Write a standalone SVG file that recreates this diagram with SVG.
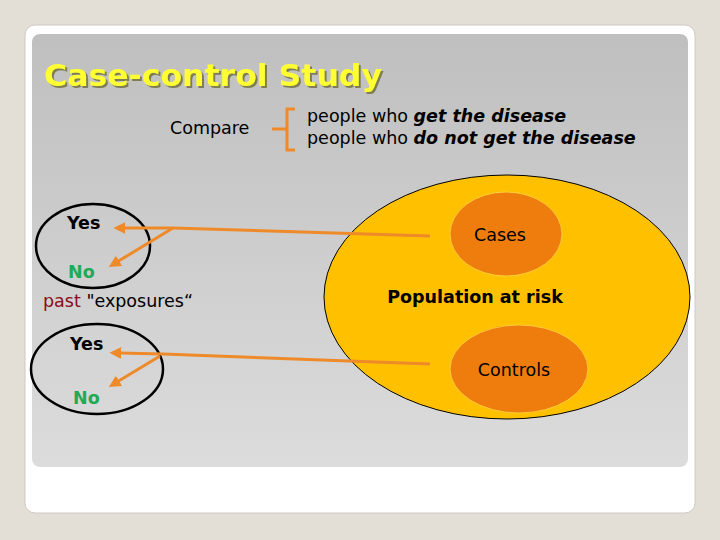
<svg xmlns="http://www.w3.org/2000/svg" width="720" height="540" viewBox="0 0 720 540">
<defs>
<linearGradient id="panel" x1="0" y1="0" x2="0" y2="1">
<stop offset="0" stop-color="#bfbfbf"/>
<stop offset="1" stop-color="#dcdcdc"/>
</linearGradient>
<filter id="sh" x="-5%" y="-20%" width="115%" height="150%">
<feDropShadow dx="2" dy="2" stdDeviation="0.6" flood-color="#77744a" flood-opacity="0.9"/>
</filter>
<marker id="ah" viewBox="0 0 10 10" refX="2" refY="5" markerWidth="4" markerHeight="4" orient="auto-start-reverse">
<path d="M0,0 L10,5 L0,10 z" fill="#ef8a2a"/>
</marker>
<style>
.t{font-family:"DejaVu Sans",Verdana,sans-serif;font-size:17.5px;fill:#000}
.b{font-weight:bold}
.g{fill:#1faa55}
.ln{stroke:#ef8a2a;stroke-width:3;fill:none}
.ring{fill:none;stroke:#000;stroke-width:2.5}
</style>
</defs>
<rect width="720" height="540" fill="#e4dfd6"/>
<rect x="25" y="25" width="670" height="488" rx="10" fill="#fff" stroke="#cfcac2"/>
<rect x="32" y="34" width="656" height="433" rx="8" fill="url(#panel)"/>
<g id="title">
<text x="44" y="86" class="t b" style="font-size:30px;fill:#ffff33" filter="url(#sh)" textLength="338" lengthAdjust="spacingAndGlyphs">Case-control Study</text>
</g>
<g id="compare">
<text x="170" y="134" class="t">Compare</text>
<path class="ln" d="M295,109 H287 V150 H295 M287,129 H272"/>
<text x="307" y="122" class="t">people who <tspan class="b" font-style="italic">get the disease</tspan></text>
<text x="307" y="144" class="t">people who <tspan class="b" font-style="italic">do not get the disease</tspan></text>
</g>
<g id="exposure-top">
<ellipse class="ring" cx="93" cy="246" rx="57" ry="42"/>
<text x="67" y="229" class="t b">Yes</text>
<text x="68" y="278" class="t b g">No</text>
</g>
<text id="past" x="43" y="307" class="t">
<tspan fill="#8b0a1a">past</tspan> "exposures“</text>
<g id="exposure-bottom">
<ellipse class="ring" cx="97" cy="369" rx="66" ry="45"/>
<text x="70" y="350" class="t b">Yes</text>
<text x="73" y="404" class="t b g">No</text>
</g>
<g id="population">
<ellipse cx="507" cy="297" rx="183" ry="122" fill="#ffc000" stroke="#000" stroke-width="1"/>
<text x="475" y="303" class="t b" text-anchor="middle">Population at risk</text>
</g>
<g id="cases">
<ellipse cx="506" cy="234" rx="56" ry="42" fill="#ee7d0e" stroke="#ffd84a" stroke-width="0.8"/>
<text x="500" y="241" class="t" text-anchor="middle">Cases</text>
</g>
<g id="controls">
<ellipse cx="519" cy="369" rx="69" ry="44" fill="#ee7d0e" stroke="#ffd84a" stroke-width="0.8"/>
<text x="514" y="376" class="t" text-anchor="middle">Controls</text>
</g>
<g id="connectors">
<path class="ln" d="M430,236 L173,228 L123,228" marker-end="url(#ah)"/>
<path class="ln" d="M173,228 L117,262" marker-end="url(#ah)"/>
<path class="ln" d="M430,364 L163,354 L119,353" marker-end="url(#ah)"/>
<path class="ln" d="M160,356 L117,382" marker-end="url(#ah)"/>
</g>
</svg>
